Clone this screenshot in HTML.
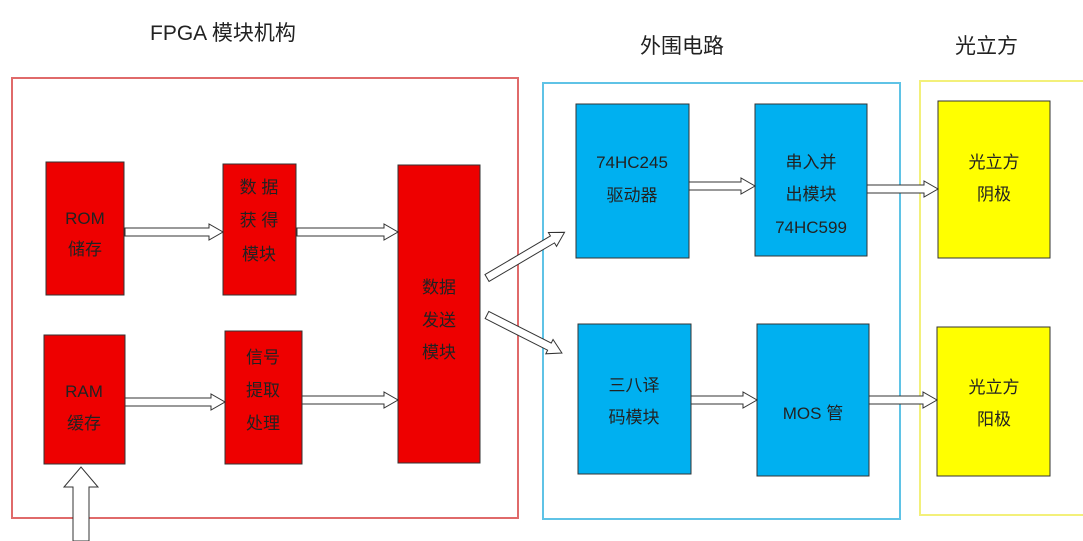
<!DOCTYPE html>
<html><head><meta charset="utf-8"><style>
html,body{margin:0;padding:0;background:#fff;}
svg{display:block;}
text{font-family:"Liberation Sans","Noto Sans CJK SC",sans-serif;fill:#222;}
</style></head><body>
<svg width="1083" height="541" viewBox="0 0 1083 541" xmlns="http://www.w3.org/2000/svg">
<defs>
<g id="a"><polygon points="0,-4 0,4" /></g>
</defs>
<!-- titles -->
<text x="150" y="40" font-size="21">FPGA 模块机构</text>
<text x="640" y="53" font-size="21">外围电路</text>
<text x="955" y="53" font-size="21">光立方</text>
<!-- frames -->
<rect x="12" y="78" width="506" height="440" fill="none" stroke="#e06a6a" stroke-width="2"/>
<rect x="543" y="83" width="357" height="436" fill="none" stroke="#5fc3e6" stroke-width="2"/>
<rect x="920" y="81" width="170" height="434" fill="none" stroke="#f3f07a" stroke-width="2"/>
<!-- red boxes -->
<g fill="#ee0000" stroke="#333" stroke-width="1">
<rect x="46" y="162" width="78" height="133"/>
<rect x="223" y="164" width="73" height="131"/>
<rect x="398" y="165" width="82" height="298"/>
<rect x="44" y="335" width="81" height="129"/>
<rect x="225" y="331" width="77" height="133"/>
</g>
<g fill="#00b0f0" stroke="#333" stroke-width="1">
<rect x="576" y="104" width="113" height="154"/>
<rect x="755" y="104" width="112" height="152"/>
<rect x="578" y="324" width="113" height="150"/>
<rect x="757" y="324" width="112" height="152"/>
</g>
<g fill="#ffff00" stroke="#333" stroke-width="1">
<rect x="938" y="101" width="112" height="157"/>
<rect x="937" y="327" width="113" height="149"/>
</g>
<!-- labels -->
<g font-size="17" text-anchor="middle">
<text x="85" y="224">ROM</text><text x="85" y="255">储存</text>
<text x="259" y="193">数 据</text><text x="259" y="226">获 得</text><text x="259" y="260">模块</text>
<text x="439" y="293">数据</text><text x="439" y="326">发送</text><text x="439" y="358">模块</text>
<text x="84" y="397">RAM</text><text x="84" y="429">缓存</text>
<text x="263" y="363">信号</text><text x="263" y="396">提取</text><text x="263" y="429">处理</text>
<text x="632" y="168">74HC245</text><text x="632" y="201">驱动器</text>
<text x="811" y="168">串入并</text><text x="811" y="200">出模块</text><text x="811" y="233">74HC599</text>
<text x="634" y="391">三八译</text><text x="634" y="423">码模块</text>
<text x="813" y="419">MOS 管</text>
<text x="994" y="168">光立方</text><text x="994" y="200">阴极</text>
<text x="994" y="393">光立方</text><text x="994" y="425">阳极</text>
</g>
<!-- arrows -->
<g fill="#fff" stroke="#333" stroke-width="1">
<g transform="translate(125,232)"><polygon points="0,-4 84,-4 84,-8 98,0 84,8 84,4 0,4"/></g>
<g transform="translate(297,232)"><polygon points="0,-4 87,-4 87,-8 101,0 87,8 87,4 0,4"/></g>
<g transform="translate(125,402)"><polygon points="0,-4 86,-4 86,-8 100,0 86,8 86,4 0,4"/></g>
<g transform="translate(302,400)"><polygon points="0,-4 82,-4 82,-8 96,0 82,8 82,4 0,4"/></g>
<g transform="translate(487,278) rotate(-30.5)"><polygon points="0,-4 76,-4 76,-8 90,0 76,8 76,4 0,4"/></g>
<g transform="translate(487,315) rotate(26.9)"><polygon points="0,-4 70,-4 70,-8 84,0 70,8 70,4 0,4"/></g>
<g transform="translate(689,186)"><polygon points="0,-4 52,-4 52,-8 66,0 52,8 52,4 0,4"/></g>
<g transform="translate(867,189)"><polygon points="0,-4 57,-4 57,-8 71,0 57,8 57,4 0,4"/></g>
<g transform="translate(691,400)"><polygon points="0,-4 52,-4 52,-8 66,0 52,8 52,4 0,4"/></g>
<g transform="translate(869,400)"><polygon points="0,-4 54,-4 54,-8 68,0 54,8 54,4 0,4"/></g>
<g transform="translate(81,541) rotate(-90)"><polygon points="0,-8 54,-8 54,-17 74,0 54,17 54,8 0,8"/></g>
</g>
</svg>
</body></html>
